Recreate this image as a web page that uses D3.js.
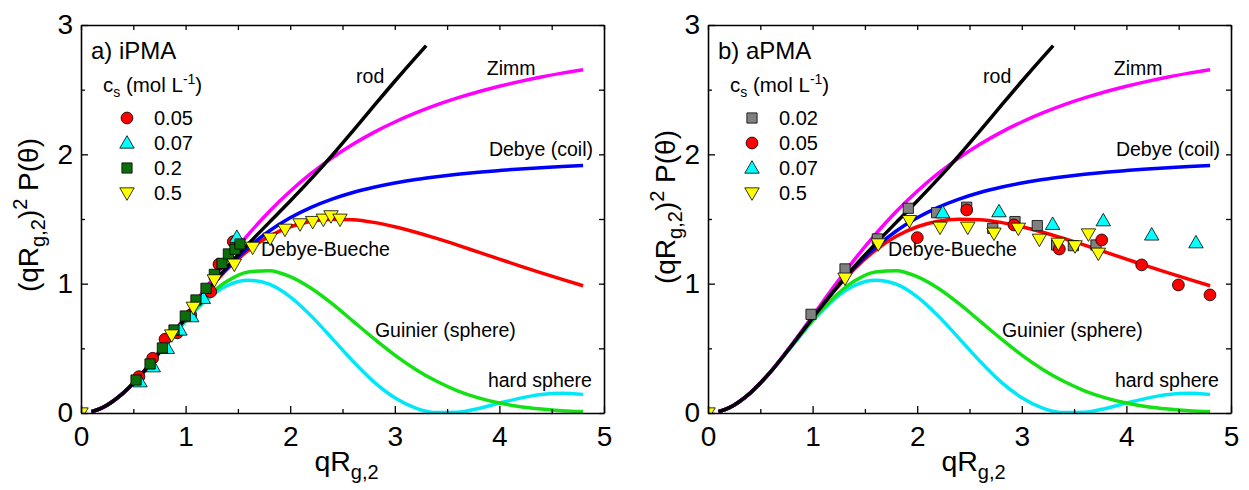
<!DOCTYPE html>
<html><head><meta charset="utf-8">
<script src="https://cdn.jsdelivr.net/npm/d3@7"></script>
<style>
body{margin:0;background:#fff}
svg{display:block}
text{font-family:"Liberation Sans",Arial,sans-serif;fill:#000}
</style>
</head><body>
<svg id="chart" width="1249" height="490"></svg>
<script>
// ---------- model curves ----------
const qGrid = [0.1,0.2,0.4,0.6,0.8,1.0,1.2,1.4,1.6,1.8,2.0,2.2,2.4,2.6,2.8,3.0,3.2,3.4,3.6,3.8,4.0,4.2,4.4,4.6,4.8];
const zimmVals = [0.010,0.040,0.152,0.321,0.528,0.750,0.973,1.186,1.381,1.558,1.714,1.852,1.973,2.078,2.170,2.250,2.320,2.382,2.436,2.484,2.526,2.564,2.598,2.628,2.654];
const debyeVals = [0.010,0.039,0.152,0.320,0.523,0.736,0.940,1.123,1.279,1.407,1.509,1.590,1.654,1.705,1.745,1.778,1.805,1.827,1.846,1.862,1.875,1.887,1.897,1.906,1.913];
const bueVals = [0.010,0.039,0.152,0.320,0.523,0.735,0.937,1.114,1.258,1.366,1.440,1.483,1.499,1.495,1.474,1.440,1.398,1.350,1.298,1.244,1.190,1.136,1.084,1.033,0.984];
const guinierVals = [0.010,0.039,0.152,0.319,0.517,0.717,0.891,1.020,1.091,1.100,1.054,0.964,0.845,0.710,0.575,0.448,0.337,0.245,0.172,0.117,0.077,0.049,0.031,0.018,0.011];
const hardSphereVals = [0.010,0.039,0.152,0.319,0.515,0.711,0.875,0.986,1.027,0.996,0.898,0.751,0.577,0.400,0.241,0.118,0.038,0.003,0.006,0.035,0.076,0.115,0.143,0.153,0.144];
const rodQ = [0.1,0.2,0.4,0.6,0.8,1.0,1.2,1.4,1.6,1.8,2.0,2.2,2.4,2.6,2.8,3.0,3.2,3.3];
const rodVals = [0.010,0.040,0.152,0.320,0.523,0.736,0.942,1.133,1.308,1.474,1.639,1.810,1.991,2.181,2.374,2.565,2.750,2.840];

// ---------- iPMA data ----------
const iPMA005x = [0.554,0.685,0.803,0.921,1.049,1.24,1.319,1.456];
const iPMA005y = [0.281,0.423,0.57,0.62,0.758,0.938,1.15,1.325];
const iPMA007x = [0.564,0.691,0.825,0.946,1.058,1.17,1.49];
const iPMA007y = [0.242,0.358,0.50,0.642,0.745,0.887,1.359];
const iPMA02x = [0.526,0.66,0.778,0.889,0.997,1.099,1.195,1.275,1.348,1.409,1.472,1.52];
const iPMA02y = [0.255,0.379,0.503,0.642,0.750,0.874,0.964,1.072,1.157,1.23,1.266,1.307];
const iPMA05x = [0,0.867,1.074,1.275,1.466,1.641,1.807,1.95,2.094,2.215,2.317,2.39,2.476];
const iPMA05y = [0,0.603,0.817,1.029,1.15,1.281,1.351,1.42,1.462,1.48,1.498,1.524,1.498];

// ---------- aPMA data ----------
const aPMA002x = [0.985,1.31,1.619,1.915,2.186,2.473,2.722,2.935,3.148,3.333,3.493,3.709];
const aPMA002y = [0.763,1.114,1.346,1.583,1.549,1.591,1.428,1.48,1.449,1.299,1.294,1.299];
const aPMA005x = [2.001,2.473,2.925,3.359,3.764,4.146,4.497,4.799];
const aPMA005y = [1.356,1.570,1.454,1.268,1.338,1.145,0.99,0.913];
const aPMA007x = [2.244,2.782,3.295,3.779,4.242,4.665];
const aPMA007y = [1.549,1.557,1.459,1.487,1.377,1.317];
const aPMA05x = [0,1.31,1.628,1.925,2.218,2.483,2.734,2.967,3.168,3.349,3.509,3.637,3.732];
const aPMA05y = [0,1.042,1.307,1.487,1.436,1.436,1.39,1.428,1.343,1.312,1.292,1.384,1.235];

// ---------- ticks ----------
const xMajor = [0,1,2,3,4,5];
const xMinor = [0.5,1.5,2.5,3.5,4.5];
const yMajor = [0,1,2,3];
const yMinor = [0.5,1.5,2.5];

const curveLabels = [
  {t:"rod", x:2.63, y:2.55},
  {t:"Zimm", x:3.88, y:2.61},
  {t:"Debye (coil)", x:3.90, y:1.99},
  {t:"Debye-Bueche", x:1.72, y:1.215},
  {t:"Guinier (sphere)", x:2.81, y:0.59},
  {t:"hard sphere", x:3.89, y:0.20}
];

const svg = d3.select("#chart");
const zip = (a,b)=>a.map((v,i)=>[v,b[i]]);

const models = [
  {q:qGrid, v:hardSphereVals, c:"#00e8f8"},
  {q:qGrid, v:guinierVals, c:"#14e014"},
  {q:qGrid, v:bueVals, c:"#ff0000"},
  {q:qGrid, v:debyeVals, c:"#0000ff"},
  {q:qGrid, v:zimmVals, c:"#ff00ff"},
  {q:rodQ, v:rodVals, c:"#000000"}
];

const shapes = {
  circle: d3.symbol().type(d3.symbolCircle).size(110)(),
  square: d3.symbol().type(d3.symbolSquare).size(105)(),
  tri: d3.symbol().type(d3.symbolTriangle).size(90)()
};

function marker(g, kind, fill, px, py){
  const p = g.append("path").attr("fill",fill).attr("stroke","#000").attr("stroke-width",0.8);
  if(kind==="up"){ p.attr("d",shapes.tri).attr("transform",`translate(${px},${py+1})`); }
  else if(kind==="down"){ p.attr("d",shapes.tri).attr("transform",`translate(${px},${py-1}) rotate(180)`); }
  else { p.attr("d",shapes[kind]).attr("transform",`translate(${px},${py})`); }
}

function panel(cfg){
  const x = d3.scaleLinear().domain([0,5]).range([cfg.x0,cfg.x1]);
  const y = d3.scaleLinear().domain([0,3]).range([413,25]);
  const g = svg.append("g");
  const cid = "clip"+cfg.id;
  svg.append("clipPath").attr("id",cid).append("rect")
    .attr("x",cfg.x0).attr("y",25).attr("width",cfg.x1-cfg.x0).attr("height",388);

  // model curves
  const line = d3.line().x(d=>x(d[0])).y(d=>y(d[1])).curve(d3.curveMonotoneX);
  const cg = g.append("g").attr("clip-path",`url(#${cid})`);
  models.forEach(m=>{
    cg.append("path").attr("d",line(zip(m.q,m.v))).attr("fill","none")
      .attr("stroke",m.c).attr("stroke-width",3.5).attr("stroke-linejoin","round");
  });

  // curve labels
  curveLabels.forEach(l=>{
    g.append("text").attr("x",x(l.x)).attr("y",y(l.y)).style("font-size","19.5px").text(l.t);
  });

  // data
  const dg = g.append("g").attr("clip-path",`url(#${cid})`);
  cfg.series.forEach(s=>{
    zip(s.x,s.y).forEach(d=>marker(dg,s.kind,s.fill,x(d[0]),y(d[1])));
  });

  // axes
  const fs = "28px";
  const bx = g.append("g").attr("transform",`translate(0,${y(0)})`)
    .call(d3.axisBottom(x).tickValues(xMajor).tickSizeInner(-7).tickSizeOuter(0).tickPadding(13).tickFormat(d3.format("d")));
  bx.selectAll("text").style("font-size",fs).attr("font-family",null);
  const bxm = g.append("g").attr("transform",`translate(0,${y(0)})`)
    .call(d3.axisBottom(x).tickValues(xMinor).tickSizeInner(-4).tickSizeOuter(0).tickFormat(""));
  bxm.select(".domain").remove();
  g.append("g").attr("transform",`translate(0,${y(3)})`)
    .call(d3.axisTop(x).tickValues(xMajor.concat(xMinor)).tickSizeInner(-5).tickSizeOuter(0).tickFormat(""));
  const ly = g.append("g").attr("transform",`translate(${x(0)},0)`)
    .call(d3.axisLeft(y).tickValues(yMajor).tickSizeInner(-7).tickSizeOuter(0).tickPadding(8).tickFormat(d3.format("d")));
  ly.selectAll("text").style("font-size",fs).attr("font-family",null);
  const lym = g.append("g").attr("transform",`translate(${x(0)},0)`)
    .call(d3.axisLeft(y).tickValues(yMinor).tickSizeInner(-4).tickSizeOuter(0).tickFormat(""));
  lym.select(".domain").remove();
  g.append("g").attr("transform",`translate(${x(5)},0)`)
    .call(d3.axisRight(y).tickValues(yMajor.concat(yMinor)).tickSizeInner(-5).tickSizeOuter(0).tickFormat(""));
  g.selectAll(".domain").attr("stroke-width",1.6).attr("stroke","#000");
  g.selectAll(".tick line").attr("stroke-width",1.3).attr("stroke","#000");

  // axis titles
  const xt = g.append("text").attr("x",(cfg.x0+cfg.x1)/2+4).attr("y",471).attr("text-anchor","middle").style("font-size","28.5px");
  xt.append("tspan").text("qR");
  xt.append("tspan").attr("dy",8).style("font-size","20px").text("g,2");

  const yt = g.append("text").attr("transform",`translate(${cfg.ytx},${cfg.yty}) rotate(-90)`)
    .attr("text-anchor","middle").style("font-size","28px");
  yt.append("tspan").text("(qR");
  yt.append("tspan").attr("dy",7).style("font-size","20px").text("g,2");
  yt.append("tspan").attr("dy",-7).text(")");
  yt.append("tspan").attr("dy",-11).style("font-size","20px").text("2");
  yt.append("tspan").attr("dy",11).text("\u00a0P(\u03b8)");

  // panel label
  g.append("text").attr("x",cfg.x0+10).attr("y",59).style("font-size","24px").text(cfg.label);
  // legend title
  const lt = g.append("text").attr("x",cfg.x0+cfg.legX).attr("y",92).style("font-size","20.5px");
  lt.append("tspan").text("c");
  lt.append("tspan").attr("dy",5).style("font-size","14px").text("s");
  lt.append("tspan").attr("dy",-5).text(" (mol L");
  lt.append("tspan").attr("dy",-8).style("font-size","14px").text("-1");
  lt.append("tspan").attr("dy",8).text(")");
  cfg.series.forEach((s,i)=>{
    const my = 118 + i*25;
    marker(g,s.kind,s.fill,cfg.x0+cfg.legM,my);
    g.append("text").attr("x",cfg.x0+cfg.legT).attr("y",my+7).style("font-size","20px").text(s.name);
  });
}

panel({id:"a", x0:81, x1:604, ytx:38, yty:215, label:"a) iPMA", legX:22, legM:46, legT:73,
  series:[
    {name:"0.05", kind:"circle", fill:"#ff0000", x:iPMA005x, y:iPMA005y},
    {name:"0.07", kind:"up", fill:"#00ffff", x:iPMA007x, y:iPMA007y},
    {name:"0.2", kind:"square", fill:"#0b6e0b", x:iPMA02x, y:iPMA02y},
    {name:"0.5", kind:"down", fill:"#ffff00", x:iPMA05x, y:iPMA05y}
  ]});
panel({id:"b", x0:708, x1:1231, ytx:675, yty:207, label:"b) aPMA", legX:22, legM:44, legT:71,
  series:[
    {name:"0.02", kind:"square", fill:"#808080", x:aPMA002x, y:aPMA002y},
    {name:"0.05", kind:"circle", fill:"#ff0000", x:aPMA005x, y:aPMA005y},
    {name:"0.07", kind:"up", fill:"#00ffff", x:aPMA007x, y:aPMA007y},
    {name:"0.5", kind:"down", fill:"#ffff00", x:aPMA05x, y:aPMA05y}
  ]});
</script>
</body></html>
